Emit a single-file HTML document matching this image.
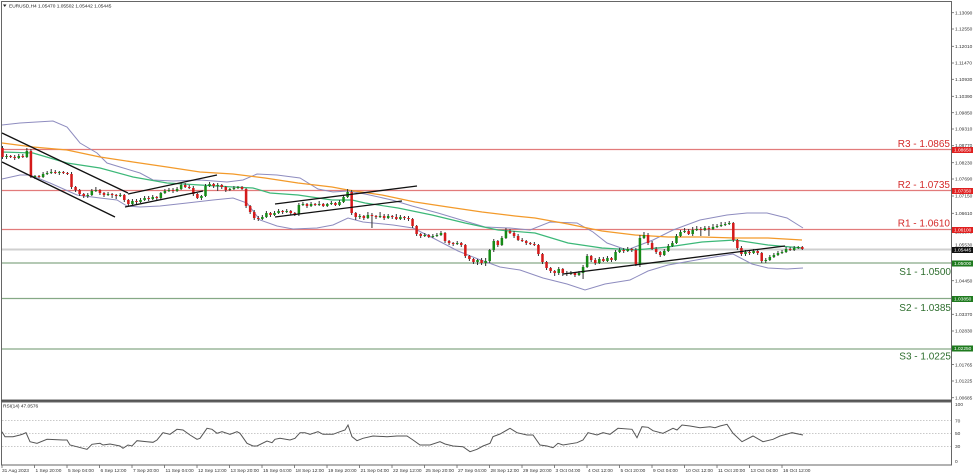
<!DOCTYPE html>
<html><head><meta charset="utf-8"><style>
html,body{margin:0;padding:0;background:#fff;}
svg{display:block;font-family:"Liberation Sans",Arial,sans-serif;}
</style></head><body>
<svg width="975" height="476" viewBox="0 0 975 476" xmlns="http://www.w3.org/2000/svg">
<rect x="0" y="0" width="975" height="476" fill="#fff"/>
<!-- panel borders -->
<rect x="1.5" y="1.5" width="950" height="398.5" fill="none" stroke="#666" stroke-width="1"/>
<line x1="1" y1="401" x2="952" y2="401" stroke="#555" stroke-width="2"/>
<rect x="1.5" y="402" width="950" height="63" fill="none" stroke="#666" stroke-width="1"/>

<!-- level lines -->
<line x1="2" y1="149.5" x2="951" y2="149.5" stroke="#e27b7b" stroke-width="1.3"/>
<line x1="2" y1="190.5" x2="951" y2="190.5" stroke="#e27b7b" stroke-width="1.3"/>
<line x1="2" y1="229.5" x2="951" y2="229.5" stroke="#e27b7b" stroke-width="1.3"/>
<line x1="2" y1="249.5" x2="951" y2="249.5" stroke="#cfcfcf" stroke-width="2"/>
<line x1="2" y1="263" x2="951" y2="263" stroke="#86a986" stroke-width="1.3"/>
<line x1="2" y1="298.5" x2="951" y2="298.5" stroke="#86a986" stroke-width="1.3"/>
<line x1="2" y1="349" x2="951" y2="349" stroke="#86a986" stroke-width="1.3"/>

<!-- moving averages and bands -->
<polyline fill="none" stroke="#8e8cbf" stroke-width="1" points="2,125 20,123 53,121 67,127 80,143 97,153 107,163 120,167 140,173 153,180 173,181 200,180 227,182 243,180 257,174 277,175 300,178 318,189 333,192 348,191 365,194 392,200 412,206 438,213 458,219 485,227 510,228 530,230 550,222 577,223 593,232 607,243 627,250 640,245 653,240 673,230 700,220 727,215 747,213 767,213 787,218 803,228"/>
<polyline fill="none" stroke="#8e8cbf" stroke-width="1" points="2,179 20,175 30,175 50,183 77,195 100,198 117,200 127,206 140,207 160,206 187,203 213,200 233,198 247,203 260,220 277,226 293,229 317,228 333,225 348,218 363,222 393,225 413,228 433,238 458,251 478,259 500,267 520,270 543,278 567,284 585,290 605,284 630,280 648,271 668,265 702,259 733,254 752,264 768,268 787,269 803,268"/>
<polyline fill="none" stroke="#3cb878" stroke-width="1.2" points="2,152 33,153 67,163 100,168 133,177 167,183 200,185 233,187 253,188 270,193 298,195 332,200 352,200 365,203 398,208 432,215 465,223 498,230 535,233 568,243 602,248 635,250 668,247 702,242 735,240 768,245 802,248"/>
<polyline fill="none" stroke="#f39a2a" stroke-width="1.3" points="2,143 33,147 67,150 100,157 133,162 167,167 200,172 233,174 265,178 298,183 332,187 348,190 382,195 415,202 448,207 482,212 515,216 535,218 568,224 602,231 635,235 668,237 702,237 735,238 768,238 802,240"/>

<!-- candles -->
<g transform="translate(2.5 0) scale(4.06 1)" fill="none">
<path stroke="#333" stroke-width="0.25" d="M0 146V159M1 154V159M2 155V158M3 155V160M4 154V159M5 154V158M6 148V158M7 149V178M8 175V179M9 175V178M10 172V178M11 171V175M12 169V174M13 170V174M14 171V175M15 171V174M16 172V175M17 172V189M18 186V192M19 189V196M20 193V198M21 193V198M22 189V196M23 187V192M24 189V195M25 192V197M26 192V196M27 193V198M28 194V199M29 193V197M30 194V202M31 199V206M32 199V205M33 199V204M34 198V203M35 196V201M36 196V201M37 195V200M38 196V200M39 192V199M40 189V194M41 188V192M42 188V193M43 187V192M44 183V190M45 183V188M46 185V189M47 186V196M48 193V199M49 195V200M50 184V197M51 182V187M52 183V188M53 183V191M54 184V189M55 186V192M56 188V191M57 186V190M58 186V189M59 186V190M60 188V208M61 205V214M62 210V220M63 216V221M64 215V220M65 211V218M66 212V217M67 211V216M68 209V214M69 210V214M70 209V213M71 210V215M72 212V216M73 203V216M74 202V206M75 203V208M76 202V207M77 203V206M78 201V206M79 203V207M80 203V207M81 201V205M82 202V206M83 200V206M84 195V203M85 189V198M86 190V215M87 212V220M88 214V219M89 215V220M90 212V219M91 213V228M92 215V219M93 212V218M94 214V220M95 214V219M96 215V219M97 214V220M98 215V220M99 216V220M100 216V221M101 218V228M102 225V236M103 233V238M104 233V237M105 234V238M106 234V238M107 233V237M108 231V236M109 232V243M110 240V245M111 242V246M112 241V245M113 242V247M114 244V258M115 255V261M116 258V264M117 259V265M118 258V265M119 258V266M120 249V263M121 239V252M122 240V247M123 236V246M124 228V239M125 229V234M126 231V238M127 234V241M128 238V242M129 240V245M130 242V245M131 242V246M132 244V256M133 253V264M134 261V270M135 267V273M136 270V276M137 267V275M138 268V276M139 271V276M140 271V275M141 272V277M142 271V276M143 265V279M144 254V268M145 255V262M146 258V265M147 257V264M148 257V262M149 256V262M150 257V262M151 250V261M152 248V253M153 248V253M154 247V252M155 248V252M156 248V266M157 235V267M158 232V239M159 233V245M160 241V250M161 247V254M162 251V257M163 249V256M164 244V252M165 241V247M166 234V244M167 230V237M168 228V233M169 229V235M170 227V236M171 226V231M172 227V236M173 226V231M174 226V236M175 224V230M176 224V228M177 222V227M178 222V226M179 221V225M180 222V242M181 239V250M182 246V256M183 250V256M184 250V255M185 249V254M186 250V255M187 252V263M188 258V263M189 255V261M190 253V258M191 251V256M192 250V254M193 247V253M194 247V251M195 246V251M196 246V249M197 246V250"/>
<path stroke="#d41a1a" stroke-width="0.62" d="M0 148V157M2 156V157M3 157V158M5 156V157M7 151V177M9 176V177M13 172V173M15 172V173M16 173V174M17 174V187M18 187V190M19 190V194M20 194V196M24 190V193M25 193V195M27 194V195M28 195V196M30 195V200M31 200V204M33 201V202M36 198V199M38 197V198M42 190V191M45 185V187M46 187V188M47 188V194M48 194V198M52 184V186M54 185V187M55 187V190M59 187V189M60 189V206M61 206V212M62 212V218M63 218V219M66 213V215M69 211V212M71 211V213M72 213V214M75 204V206M77 204V205M79 204V206M82 203V205M86 192V213M87 213V217M89 216V218M91 215V216M92 216V217M94 216V218M96 216V217M97 217V219M99 217V218M100 218V219M101 219V226M102 226V234M103 234V236M105 235V237M109 233V241M110 241V243M111 243V244M113 243V245M114 245V256M115 256V259M116 259V262M118 260V263M122 241V245M125 231V233M126 233V236M127 236V240M128 240V241M129 241V243M130 243V244M131 244V245M132 245V254M133 254V262M134 262V268M135 268V271M136 271V273M138 269V273M139 273V274M141 273V275M145 256V260M146 260V263M148 259V261M150 258V260M153 250V251M155 249V250M156 250V264M159 235V243M160 243V249M161 249V252M162 252V255M169 231V234M172 229V230M174 228V229M180 223V240M181 240V248M182 248V254M184 252V253M186 251V253M187 253V261M194 249V250M197 247V249"/>
<path stroke="#178a17" stroke-width="0.62" d="M1 157V156M4 158V156M6 157V151M8 177V176M10 177V174M11 174V173M12 173V172M14 173V172M21 196V195M22 195V191M23 191V190M26 195V194M29 196V195M32 204V201M34 202V200M35 200V198M37 199V197M39 198V193M40 193V191M41 191V190M43 191V189M44 189V185M49 198V196M50 196V186M51 186V184M53 186V185M56 190V189M57 189V188M58 188V187M64 219V217M65 217V213M67 215V213M68 213V211M70 212V211M73 214V205M74 205V204M76 206V204M78 205V204M80 206V204M81 204V203M83 205V202M84 202V197M85 197V192M88 217V216M90 218V215M93 217V216M95 218V216M98 219V217M104 236V235M106 237V236M107 236V235M108 235V233M112 244V243M117 262V260M119 263V261M120 261V250M121 250V241M123 245V238M124 238V231M137 273V269M140 274V273M142 275V273M143 273V267M144 267V256M147 263V259M149 261V258M151 260V252M152 252V250M154 251V249M157 264V238M158 238V235M163 255V251M164 251V246M165 246V243M166 243V236M167 236V232M168 232V231M170 234V230M171 230V229M173 230V228M175 229V227M176 227V226M177 226V225M178 225V224M179 224V223M183 254V252M185 253V251M188 261V260M189 260V257M190 257V255M191 255V253M192 253V252M193 252V249M195 250V248M196 248V247"/>
</g>

<!-- trendlines -->
<g stroke="#111" stroke-width="1.3" fill="none">
<line x1="2" y1="133" x2="128" y2="193"/>
<line x1="2" y1="162" x2="115" y2="217"/>
<line x1="128" y1="194" x2="217" y2="175"/>
<line x1="125" y1="207" x2="203" y2="191"/>
<line x1="275" y1="204" x2="417" y2="186"/>
<line x1="275" y1="217" x2="402" y2="201"/>
<line x1="563" y1="274" x2="785" y2="246"/>
</g>

<!-- level labels -->
<g font-size="10" text-anchor="end">
<text x="950" y="147" fill="#d42a2a">R3 - 1.0865</text>
<text x="950" y="188" fill="#d42a2a">R2 - 1.0735</text>
<text x="950" y="226.5" fill="#d42a2a">R1 - 1.0610</text>
<text x="951" y="275" fill="#2e6e2e">S1 - 1.0500</text>
<text x="951" y="311" fill="#2e6e2e">S2 - 1.0385</text>
<text x="951" y="359.5" fill="#2e6e2e">S3 - 1.0225</text>
</g>

<!-- header -->
<path d="M3 4.5L6.5 4.5L4.75 7Z" fill="#222"/>
<text x="9" y="7.5" font-size="4.8" fill="#222">EURUSD,H4  1.05470 1.05502 1.05442 1.05445</text>
<text x="3" y="407.5" font-size="4.8" fill="#222">RSI(14) 47.0576</text>

<!-- right axis ticks & labels -->
<g stroke="#666" stroke-width="0.8">
<line x1="951" y1="12.7" x2="954" y2="12.7"/><line x1="951" y1="29" x2="954" y2="29"/><line x1="951" y1="46.3" x2="954" y2="46.3"/><line x1="951" y1="63" x2="954" y2="63"/><line x1="951" y1="79.3" x2="954" y2="79.3"/><line x1="951" y1="96.3" x2="954" y2="96.3"/><line x1="951" y1="112.7" x2="954" y2="112.7"/><line x1="951" y1="129" x2="954" y2="129"/><line x1="951" y1="145.7" x2="954" y2="145.7"/><line x1="951" y1="162.7" x2="954" y2="162.7"/><line x1="951" y1="179" x2="954" y2="179"/><line x1="951" y1="196" x2="954" y2="196"/><line x1="951" y1="213.3" x2="954" y2="213.3"/><line x1="951" y1="280.7" x2="954" y2="280.7"/><line x1="951" y1="314.3" x2="954" y2="314.3"/><line x1="951" y1="331" x2="954" y2="331"/><line x1="951" y1="364.6" x2="954" y2="364.6"/><line x1="951" y1="381" x2="954" y2="381"/><line x1="951" y1="397.7" x2="954" y2="397.7"/>
</g>
<g font-size="4.8" fill="#333">
<text x="955" y="14.4">1.13090</text>
<text x="955" y="30.7">1.12550</text>
<text x="955" y="48">1.12010</text>
<text x="955" y="64.7">1.11470</text>
<text x="955" y="81">1.10930</text>
<text x="955" y="98">1.10390</text>
<text x="955" y="114.4">1.09850</text>
<text x="955" y="130.7">1.09310</text>
<text x="955" y="147.2">1.08770</text>
<text x="955" y="164.4">1.08230</text>
<text x="955" y="180.7">1.07690</text>
<text x="955" y="197.7">1.07150</text>
<text x="955" y="215">1.06610</text>
<text x="955" y="233.5">1.06070</text>
<text x="955" y="246.5">1.05530</text>
<text x="955" y="282.4">1.04450</text>
<text x="955" y="316">1.03370</text>
<text x="955" y="332.7">1.02830</text>
<text x="955" y="366.3">1.01765</text>
<text x="955" y="382.7">1.01225</text>
<text x="955" y="399.4">1.00685</text>
</g>
<g font-size="4.8" fill="#fff">
<rect x="952" y="147" width="21" height="6" fill="#e02020"/><text x="954" y="151.7">1.08650</text>
<rect x="952" y="188" width="21" height="6" fill="#e02020"/><text x="954" y="192.7">1.07350</text>
<rect x="952" y="227" width="21" height="6" fill="#e02020"/><text x="954" y="231.7">1.06100</text>
<rect x="952" y="247" width="21" height="6" fill="#111"/><text x="954" y="251.7">1.05445</text>
<rect x="952" y="260.5" width="21" height="6" fill="#1e7a1e"/><text x="954" y="265.2">1.05000</text>
<rect x="952" y="296" width="21" height="6" fill="#1e7a1e"/><text x="954" y="300.7">1.03850</text>
<rect x="952" y="345.5" width="21" height="6" fill="#1e7a1e"/><text x="954" y="350.2">1.02250</text>
</g>

<!-- RSI panel -->
<g stroke="#b8b8b8" stroke-width="0.8" stroke-dasharray="1.5,1.5">
<line x1="2" y1="420.5" x2="951" y2="420.5"/>
<line x1="2" y1="433.5" x2="951" y2="433.5"/>
<line x1="2" y1="446.5" x2="951" y2="446.5"/>
</g>
<polyline fill="none" stroke="#555" stroke-width="1" points="2,431.7 5,436.7 13,436.7 20,435 23,434 26,432.7 30,441.7 37,443.3 47,439.3 63,440 67,440 70,445 83,448.3 87,449.3 92,444.3 100,443.3 103,445 110,444 120,446 123,448.3 128,445 132,446 137,440.7 147,441.7 153,442.3 157,440 163,432.7 170,434.3 177,429.3 183,430 190,435 197,439.3 200,438.3 207,428.3 212,429.3 217,433.3 222,431.7 230,434.3 237,431.7 240,433.3 247,443.3 253,446 257,446 267,441 272,442.7 275,439.3 280,438.3 290,440 295,438.3 300,432.7 305,432.7 310,434.3 318,431.7 323,434.3 333,434.3 340,431.7 345,430 348,425 352,436.7 357,440.7 363,438.3 373,436 387,436.7 397,436 407,436 413,440 420,445 430,445 440,441.7 445,444 453,446 463,446.7 470,451.7 477,449.3 483,446 490,443.3 493,436.7 500,434 510,428.3 517,432.7 527,435 533,435 540,445 547,446 553,447.7 558,443.3 563,445 577,442.7 583,440 588,432.7 597,435 603,432.7 610,434.3 618,428.3 632,429.3 637,437.7 642,426.7 648,427.3 653,430.7 663,433.3 673,428.3 677,430 682,425 690,426 700,427.7 710,426.7 715,427.7 720,426 727,424.3 733,433.3 742,441.7 753,436 763,441.7 773,439.3 780,436 792,432.7 803,435"/>
<g font-size="4.8" fill="#333">
<text x="955" y="406">100</text>
<text x="955" y="422.3">70</text>
<text x="955" y="435">50</text>
<text x="955" y="448">30</text>
<text x="955" y="463">0</text>
</g>

<!-- time axis -->
<g stroke="#666" stroke-width="0.8">
<line x1="2" y1="465" x2="2" y2="468"/><line x1="34.5" y1="465" x2="34.5" y2="468"/><line x1="67" y1="465" x2="67" y2="468"/><line x1="99.5" y1="465" x2="99.5" y2="468"/><line x1="132" y1="465" x2="132" y2="468"/><line x1="164.5" y1="465" x2="164.5" y2="468"/><line x1="197" y1="465" x2="197" y2="468"/><line x1="229.5" y1="465" x2="229.5" y2="468"/><line x1="262" y1="465" x2="262" y2="468"/><line x1="294.5" y1="465" x2="294.5" y2="468"/><line x1="327" y1="465" x2="327" y2="468"/><line x1="359.5" y1="465" x2="359.5" y2="468"/><line x1="392" y1="465" x2="392" y2="468"/><line x1="424.5" y1="465" x2="424.5" y2="468"/><line x1="457" y1="465" x2="457" y2="468"/><line x1="489.5" y1="465" x2="489.5" y2="468"/><line x1="522" y1="465" x2="522" y2="468"/><line x1="554.5" y1="465" x2="554.5" y2="468"/><line x1="587" y1="465" x2="587" y2="468"/><line x1="619.5" y1="465" x2="619.5" y2="468"/><line x1="652" y1="465" x2="652" y2="468"/><line x1="684.5" y1="465" x2="684.5" y2="468"/><line x1="717" y1="465" x2="717" y2="468"/><line x1="749.5" y1="465" x2="749.5" y2="468"/><line x1="782" y1="465" x2="782" y2="468"/>
</g>
<g font-size="4.8" fill="#333">
<text x="2" y="472">31 Aug 2023</text>
<text x="35.5" y="472">1 Sep 20:00</text>
<text x="68" y="472">5 Sep 04:00</text>
<text x="100.5" y="472">6 Sep 12:00</text>
<text x="133" y="472">7 Sep 20:00</text>
<text x="165.5" y="472">11 Sep 04:00</text>
<text x="198" y="472">12 Sep 12:00</text>
<text x="230.5" y="472">13 Sep 20:00</text>
<text x="263" y="472">15 Sep 04:00</text>
<text x="295.5" y="472">18 Sep 12:00</text>
<text x="328" y="472">19 Sep 20:00</text>
<text x="360.5" y="472">21 Sep 04:00</text>
<text x="393" y="472">22 Sep 12:00</text>
<text x="425.5" y="472">25 Sep 20:00</text>
<text x="458" y="472">27 Sep 04:00</text>
<text x="490.5" y="472">28 Sep 12:00</text>
<text x="523" y="472">29 Sep 20:00</text>
<text x="555.5" y="472">3 Oct 04:00</text>
<text x="588" y="472">4 Oct 12:00</text>
<text x="620.5" y="472">5 Oct 20:00</text>
<text x="653" y="472">9 Oct 04:00</text>
<text x="685.5" y="472">10 Oct 12:00</text>
<text x="718" y="472">11 Oct 20:00</text>
<text x="750.5" y="472">13 Oct 04:00</text>
<text x="783" y="472">16 Oct 12:00</text>
</g>
</svg>
</body></html>
